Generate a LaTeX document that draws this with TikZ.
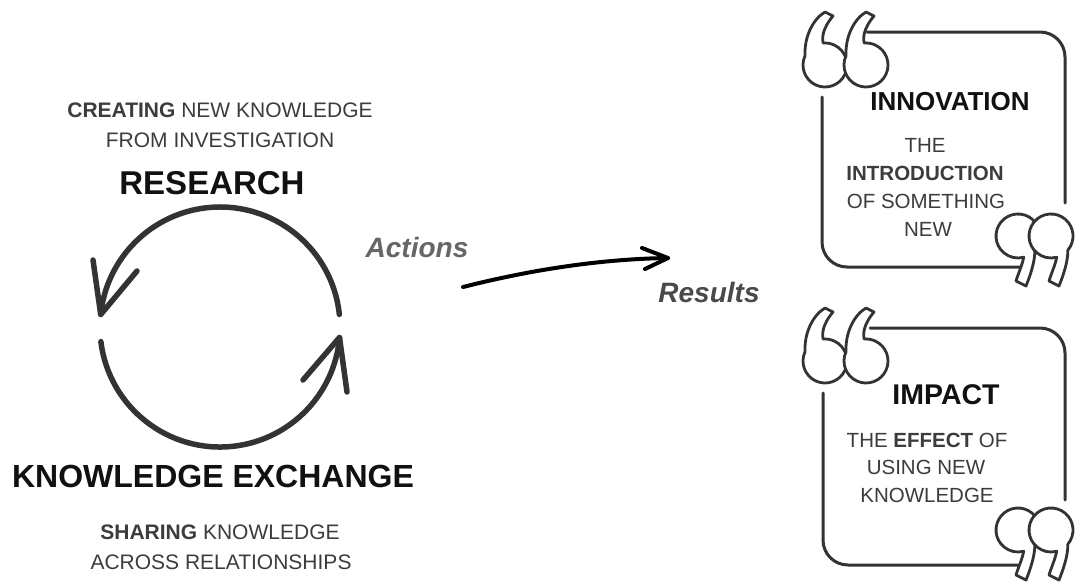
\documentclass[tikz,border=0pt]{standalone}
\usepackage{fontspec}
\setmainfont{Liberation Sans}
\usetikzlibrary{arrows.meta}
\definecolor{ink}{HTML}{333333}
\definecolor{txt}{HTML}{3C3C3C}
\definecolor{head}{HTML}{111111}
\definecolor{actc}{HTML}{666666}
\definecolor{resc}{HTML}{4A4A4A}
\tikzset{
  cyc/.style={line width=5.5pt, draw=ink, line cap=round, line join=round},
  boxline/.style={line width=3pt, draw=ink, line cap=round, rounded corners=25pt},
  qline/.style={line width=2.8pt, draw=ink, fill=white, line join=round},
  actarrow/.style={line width=4pt, draw=black, line cap=round, line join=round},
  smalltxt/.style={inner sep=0pt, text=txt, font=\fontsize{21}{25}\selectfont},
  boxtxt/.style={inner sep=0pt, text=txt, font=\fontsize{20.5}{24}\selectfont},
  bigtxt/.style={inner sep=0pt, text=head, font=\fontsize{32}{36}\selectfont\bfseries},
  labtxt/.style={inner sep=0pt, font=\fontsize{28}{32}\selectfont\bfseries\itshape},
  quoteopen/.pic={
    \draw[qline] (0,-53) .. controls (-12,-46) and (-21,-28) .. (205:22)
      arc[start angle=205, end angle=-95, radius=22]
      .. controls (-4,-32) and (2,-42) .. (8,-49) -- cycle;
  },
  quoteclose/.pic={
    \draw[qline] (8,50) .. controls (12,40) and (17,26) .. (40:22)
      arc[start angle=40, end angle=-285, radius=22]
      .. controls (4,30) and (0,38) .. (-2,45) -- cycle;
  }
}
\begin{document}
\begin{tikzpicture}[x=1pt,y=1pt,yscale=-1]
\useasboundingbox[fill=white] (0,0) rectangle (1075,581);

% left texts
\node[smalltxt] (cre) at (220,110) {\textbf{CREATING} NEW KNOWLEDGE};
\node[smalltxt] (fro) at (220,140) {FROM INVESTIGATION};
\node[bigtxt, font=\fontsize{33}{36}\selectfont\bfseries] (res) at (212,183) {RESEARCH};
\node[bigtxt] (kex) at (213,476) {KNOWLEDGE EXCHANGE};
\node[smalltxt] (sha) at (220,532) {\textbf{SHARING} KNOWLEDGE};
\node[smalltxt] (acr) at (221,562) {ACROSS RELATIONSHIPS};

% cycle
\coordinate (cc) at (220,327);
\coordinate (tipA) at (100.7,314.5);
\coordinate (tipB) at (339.5,337.5);
\coordinate (barbA1) at (93,260);
\coordinate (barbA2) at (137,271);
\coordinate (barbB1) at (303,380);
\coordinate (barbB2) at (347,392);
\draw[cyc] (cc) ++(-6:120) arc[start angle=-6, end angle=-174, radius=120];
\draw[cyc] (barbA1) -- (tipA) -- (barbA2);
\draw[cyc] (cc) ++(173:120) arc[start angle=173, end angle=5, radius=120];
\draw[cyc] (barbB1) -- (tipB) -- (barbB2);

% actions -> results
\node[labtxt, text=actc] (act) at (417,247) {Actions};
\node[labtxt, text=resc] (rsl) at (709,292) {Results};
\coordinate (aS) at (463,287);
\coordinate (aE) at (668,258);
\coordinate (aB1) at (642,248);
\coordinate (aB2) at (645,269);
\draw[actarrow] (aS) .. controls (530,270) and (600,259) .. (aE);
\draw[actarrow] (aB1) -- (aE) -- (aB2);

% box 1
\draw[boxline] (867,32) -- (1065,32) -- (1065,203);
\draw[boxline] (822,97) -- (822,267) -- (1020,267);
\pic[transform shape] at (825,65) {quoteopen};
\pic[transform shape] at (866,65) {quoteopen};
\pic[transform shape] at (1018,236) {quoteclose};
\pic[transform shape] at (1051,236) {quoteclose};
\node[bigtxt, font=\fontsize{26}{30}\selectfont\bfseries] (inn) at (950,102) {INNOVATION};
\node[boxtxt] (the) at (925,145) {THE};
\node[boxtxt, font=\fontsize{20.5}{24}\selectfont\bfseries] (int) at (925,173) {INTRODUCTION};
\node[boxtxt] (ofs) at (926,201) {OF SOMETHING};
\node[boxtxt] (new) at (928,229) {NEW};

% box 2
\draw[boxline] (870,328) -- (1065,328) -- (1065,500);
\draw[boxline] (823,393) -- (823,565) -- (1018,565);
\pic[transform shape] at (825,361) {quoteopen};
\pic[transform shape] at (866,361) {quoteopen};
\pic[transform shape] at (1018,530) {quoteclose};
\pic[transform shape] at (1051,530) {quoteclose};
\node[bigtxt, font=\fontsize{28.5}{32}\selectfont\bfseries] (imp) at (946,395) {IMPACT};
\node[boxtxt] (eff) at (927,440) {THE \textbf{EFFECT} OF};
\node[boxtxt] (usi) at (926,467) {USING NEW};
\node[boxtxt] (kno) at (927,495) {KNOWLEDGE};
\end{tikzpicture}
\end{document}
